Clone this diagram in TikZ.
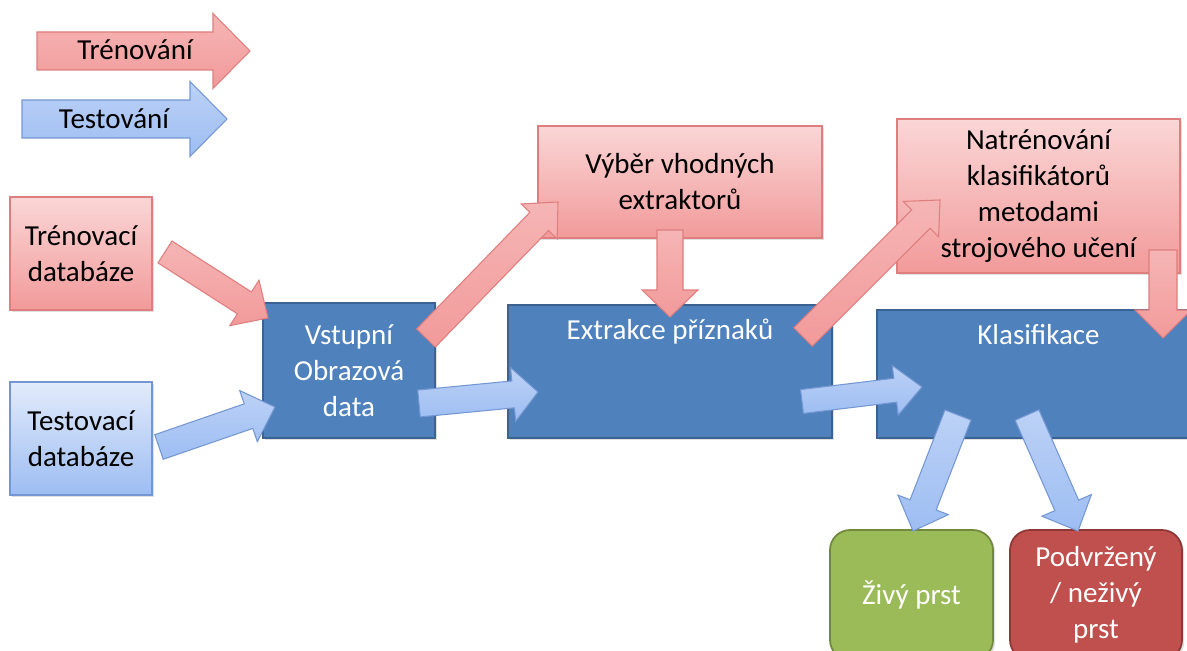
\documentclass[tikz,border=0pt]{standalone}
\usepackage{fontspec}
\setmainfont{Carlito}
\usetikzlibrary{calc,shadows}
\definecolor{trT}{HTML}{FAD6D6}
\definecolor{trBo}{HTML}{F29A9A}
\definecolor{trD}{HTML}{DE7E7E}
\definecolor{teT}{HTML}{E2EBFB}
\definecolor{teBo}{HTML}{9DBDF2}
\definecolor{teD}{HTML}{7497D3}
\definecolor{prF}{HTML}{4F81BD}
\definecolor{prD}{HTML}{3A6394}
\definecolor{gF}{HTML}{9BBB59}
\definecolor{gD}{HTML}{71893F}
\definecolor{rF}{HTML}{C0504D}
\definecolor{rD}{HTML}{8C3836}
\tikzset{
  every node/.style={font=\fontsize{16.5}{20.5}\selectfont, align=center, inner sep=0pt},
  shade/.style={drop shadow={shadow xshift=1.2pt, shadow yshift=-1.2pt, opacity=0.25}},
  trainbox/.style={draw=trD, line width=0.8pt, top color=trT, bottom color=trBo, shade},
  testbox/.style={draw=teD, line width=0.8pt, top color=teT, bottom color=teBo, shade},
  procbox/.style={draw=prD, line width=1pt, fill=prF, text=white, shade},
  livebox/.style={draw=gD, line width=1pt, fill=gF, text=white, rounded corners=0.4cm, shade},
  fakebox/.style={draw=rD, line width=1pt, fill=rF, text=white, rounded corners=0.4cm, shade},
  trainarrow/.style={draw=trD, line width=0.6pt, top color=trT!45!trBo, bottom color=trBo},
  testarrow/.style={draw=teD, line width=0.6pt, top color=teT!45!teBo, bottom color=teBo},
}
% #1 style, #2 tail, #3 tip, #4 shaft half width, #5 head half width, #6 head length
\newcommand\blockarrow[6]{%
  \coordinate (bahead) at ($(#3)!#6!(#2)$);
  \draw[#1] ($(#2)!#4!90:(#3)$) -- ($(bahead)!#4!90:(#3)$) -- ($(bahead)!#5!90:(#3)$)
    -- (#3) -- ($(bahead)!#5!-90:(#3)$) -- ($(bahead)!#4!-90:(#3)$) -- ($(#2)!#4!-90:(#3)$) -- cycle;
}
\begin{document}
\begin{tikzpicture}[x=0.02cm, y=-0.02cm]
\useasboundingbox (0,0) rectangle (1187,651);
\fill[white] (0,0) rectangle (1187,651);

% boxes
\node[trainbox, minimum width=2.84cm, minimum height=2.26cm] (trdb) at (81,253.5) {Trénovací\\databáze};
\node[testbox, minimum width=2.84cm, minimum height=2.26cm] (tedb) at (81,438.5) {Testovací\\databáze};
\node[procbox, minimum width=3.44cm, minimum height=2.70cm] (vstup) at (349,370.5) {Vstupní\\Obrazová\\data};
\node[procbox, minimum width=6.48cm, minimum height=2.66cm] (extr) at (670,371.5) {};
\node[text=white] (extrt) at ($(extr.north)+(0,27)$) {Extrakce příznaků};
\node[trainbox, minimum width=5.68cm, minimum height=2.24cm] (vyber) at (680,182) {Výběr vhodných\\extraktorů};
\node[trainbox, minimum width=5.66cm, minimum height=3.08cm] (natr) at (1038.5,196) {Natrénování\\klasifikátorů\\metodami\\strojového učení};
\node[procbox, minimum width=6.46cm, minimum height=2.56cm] (klas) at (1038.5,374) {};
\node[text=white] (klast) at ($(klas.north)+(0,25)$) {Klasifikace};
\node[livebox, minimum width=3.26cm, minimum height=2.6cm] (zivy) at (911.5,595) {Živý prst};
\node[fakebox, minimum width=3.44cm, minimum height=2.6cm] (podv) at (1096,595) {Podvržený\\/ neživý\\prst};

% legend
\coordinate (l1s) at (37,51);  \coordinate (l1e) at (250,51);
\coordinate (l2s) at (22,119); \coordinate (l2e) at (227,119);
\blockarrow{trainarrow}{l1s}{l1e}{0.38cm}{0.75cm}{0.74cm}
\blockarrow{testarrow}{l2s}{l2e}{0.38cm}{0.75cm}{0.74cm}
\node (lt1) at (135,50) {Trénování};
\node (lt2) at (114,119) {Testování};

% connector end points
\coordinate (a1s) at (165,252);  \coordinate (a1e) at (268,318);
\coordinate (a2s) at (159,447);  \coordinate (a2e) at (275,407);
\coordinate (a3s) at (426,338);  \coordinate (a3e) at (558,202);
\coordinate (a4s) at (670,230);  \coordinate (a4e) at (670,317);
\coordinate (a5s) at (803,337);  \coordinate (a5e) at (940,200);
\coordinate (a6s) at (1163,250); \coordinate (a6e) at (1163,338);
\coordinate (a7s) at (419,403.5);\coordinate (a7e) at (538,392);
\coordinate (a8s) at (802,401.5);\coordinate (a8e) at (922,387);
\coordinate (a9s) at (958,415);  \coordinate (a9e) at (913,531);
\coordinate (a10s) at (1027,415);\coordinate (a10e) at (1078,531);

\blockarrow{trainarrow}{a1s}{a1e}{0.26cm}{0.54cm}{0.56cm}
\blockarrow{testarrow}{a2s}{a2e}{0.26cm}{0.54cm}{0.56cm}
\blockarrow{trainarrow}{a3s}{a3e}{0.26cm}{0.50cm}{0.54cm}
\blockarrow{trainarrow}{a4s}{a4e}{0.26cm}{0.56cm}{0.54cm}
\blockarrow{trainarrow}{a5s}{a5e}{0.26cm}{0.50cm}{0.54cm}
\blockarrow{trainarrow}{a6s}{a6e}{0.28cm}{0.56cm}{0.56cm}
\blockarrow{testarrow}{a7s}{a7e}{0.27cm}{0.54cm}{0.50cm}
\blockarrow{testarrow}{a8s}{a8e}{0.24cm}{0.50cm}{0.54cm}
\blockarrow{testarrow}{a9s}{a9e}{0.28cm}{0.54cm}{0.56cm}
\blockarrow{testarrow}{a10s}{a10e}{0.26cm}{0.54cm}{0.56cm}
\end{tikzpicture}
\end{document}
